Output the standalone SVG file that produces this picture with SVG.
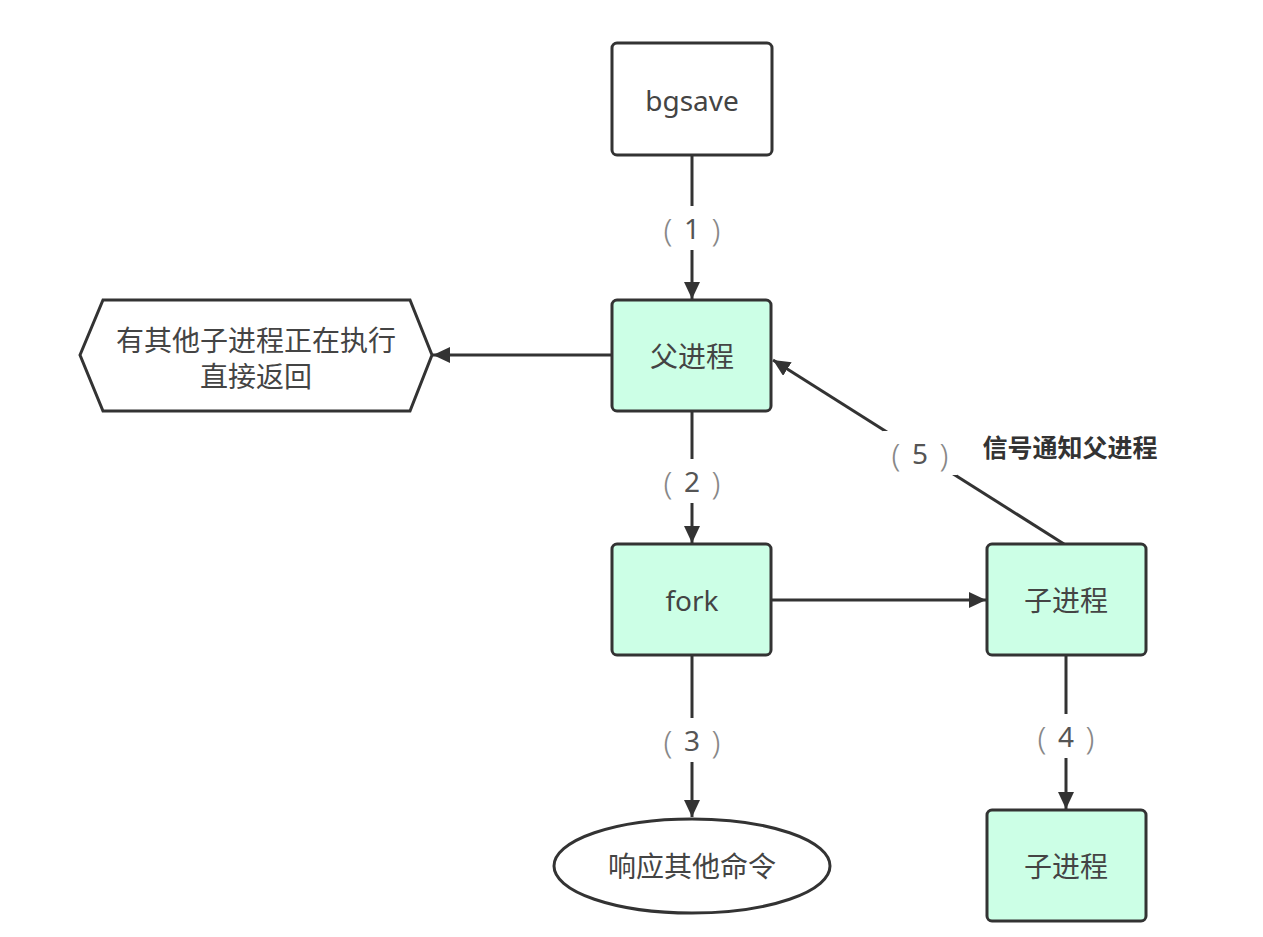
<svg xmlns="http://www.w3.org/2000/svg" width="1263" height="937" viewBox="0 0 1263 937">
<style>
.box{stroke:#333;stroke-width:3;}
.w{fill:#fff;}
.g{fill:#ccffe6;}
.t{font-family:"Noto Sans","Noto Sans CJK SC",sans-serif;font-size:28px;fill:#444;text-anchor:middle;dominant-baseline:central;}
.lb{font-family:"Noto Sans","Noto Sans CJK SC",sans-serif;font-size:28px;fill:#555;text-anchor:middle;dominant-baseline:central;}
.p{fill:#888;font-weight:300;font-size:32px;}
.bold{font-family:"Noto Sans CJK SC",sans-serif;font-size:25px;font-weight:bold;fill:#333;text-anchor:middle;dominant-baseline:central;}
.c{stroke:#333;stroke-width:3;fill:none;marker-end:url(#ah);}
</style>
<defs>
<marker id="ah" markerUnits="userSpaceOnUse" markerWidth="18" markerHeight="16" refX="17" refY="8" orient="auto">
<path d="M0,0 L17,8 L0,16 z" fill="#333"/>
</marker>
</defs>
<rect width="1263" height="937" fill="#fff"/>
<g id="connectors">
<line class="c" x1="692" y1="155" x2="692" y2="299"/>
<line class="c" x1="612" y1="355" x2="433" y2="355"/>
<line class="c" x1="692" y1="411" x2="692" y2="543"/>
<line class="c" x1="771" y1="600" x2="986" y2="600"/>
<line class="c" x1="692" y1="655" x2="692" y2="817"/>
<line class="c" x1="1066" y1="655" x2="1066" y2="809"/>
<line class="c" x1="1064" y1="544" x2="773" y2="360"/>
<rect x="655" y="206" width="74" height="44" fill="#fff"/>
<text class="lb" x="692" y="228"><tspan class="p" x="668">(</tspan><tspan x="692">1</tspan><tspan class="p" x="716">)</tspan></text>
<rect x="655" y="459" width="74" height="44" fill="#fff"/>
<text class="lb" x="692" y="481"><tspan class="p" x="668">(</tspan><tspan x="692">2</tspan><tspan class="p" x="716">)</tspan></text>
<rect x="655" y="718" width="74" height="44" fill="#fff"/>
<text class="lb" x="692" y="740"><tspan class="p" x="668">(</tspan><tspan x="692">3</tspan><tspan class="p" x="716">)</tspan></text>
<rect x="1029" y="714" width="74" height="44" fill="#fff"/>
<text class="lb" x="1066" y="736"><tspan class="p" x="1042">(</tspan><tspan x="1066">4</tspan><tspan class="p" x="1090">)</tspan></text>
<rect x="883" y="431" width="74" height="44" fill="#fff"/>
<text class="lb" x="920" y="453"><tspan class="p" x="896">(</tspan><tspan x="920">5</tspan><tspan class="p" x="944">)</tspan></text>
<text class="bold" x="1070" y="446">信号通知父进程</text>
</g>
<g id="bgsave">
<rect class="box w" x="612" y="43" width="160" height="112" rx="5"/>
<text class="t" x="692" y="100">bgsave</text>
</g>
<g id="parent">
<rect class="box g" x="612" y="300" width="159" height="111" rx="5"/>
<text class="t" x="692" y="356">父进程</text>
</g>
<g id="hexagon">
<polygon class="box w" points="80,355 103,300 410,300 432,355 410,411 103,411"/>
<text class="t" x="256" y="340">有其他子进程正在执行</text>
<text class="t" x="256" y="376">直接返回</text>
</g>
<g id="fork">
<rect class="box g" x="612" y="544" width="159" height="111" rx="5"/>
<text class="t" x="692" y="600">fork</text>
</g>
<g id="child1">
<rect class="box g" x="987" y="544" width="159" height="111" rx="5"/>
<text class="t" x="1066" y="600">子进程</text>
</g>
<g id="child2">
<rect class="box g" x="987" y="810" width="159" height="111" rx="5"/>
<text class="t" x="1066" y="866">子进程</text>
</g>
<g id="respond">
<ellipse class="box w" cx="692" cy="866" rx="138" ry="47"/>
<text class="t" x="692" y="866">响应其他命令</text>
</g>
</svg>
